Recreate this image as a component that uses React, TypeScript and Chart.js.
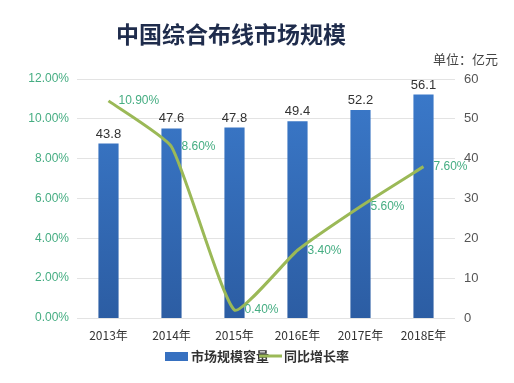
import React, { useEffect, useRef } from "react";
import { Chart, registerables } from "chart.js";

Chart.register(...registerables);

const categories = ["2013年", "2014年", "2015年", "2016E年", "2017E年", "2018E年"];
const marketSize = [43.8, 47.6, 47.8, 49.4, 52.2, 56.1];
const growthRate = [10.9, 8.6, 0.4, 3.4, 5.6, 7.6];
const leftTicks = [0, 2, 4, 6, 8, 10, 12];
const rightTicks = [0, 10, 20, 30, 40, 50, 60];

const FONT = "'Liberation Sans', 'Noto Sans CJK SC', sans-serif";
const CJK = "'Noto Sans CJK SC', 'Liberation Sans', sans-serif";
const GREEN_TEXT = "#45ad82";
const LINE_COLOR = "#9bb957";
const BAR_COLOR = "#3670c0";

const overlay = {
  id: "overlay",
  afterDatasetsDraw(chart: any) {
    const ctx = chart.ctx;
    ctx.save();
    const barMeta = chart.getDatasetMeta(1);
    ctx.font = `13px ${FONT}`;
    ctx.fillStyle = "#333333";
    ctx.textAlign = "center";
    ctx.textBaseline = "alphabetic";
    barMeta.data.forEach((el: any, i: number) => {
      ctx.fillText(marketSize[i].toFixed(1), el.x, el.y - 6);
    });
    const lineMeta = chart.getDatasetMeta(0);
    ctx.font = `12px ${FONT}`;
    ctx.fillStyle = GREEN_TEXT;
    ctx.textAlign = "left";
    ctx.textBaseline = "middle";
    lineMeta.data.forEach((el: any, i: number) => {
      ctx.fillText(growthRate[i].toFixed(2) + "%", el.x + 10, el.y);
    });
    ctx.restore();
  },
  afterDraw(chart: any) {
    const ctx = chart.ctx;
    ctx.save();
    ctx.font = `bold 23px ${CJK}`;
    ctx.fillStyle = "#1f2c4c";
    ctx.textAlign = "center";
    ctx.textBaseline = "middle";
    ctx.fillText("中国综合布线市场规模", 231, 34);
    ctx.font = `13px ${CJK}`;
    ctx.fillStyle = "#444444";
    ctx.textAlign = "right";
    ctx.fillText("单位：亿元", 498, 59);
    const ly = 356;
    ctx.fillStyle = BAR_COLOR;
    ctx.fillRect(165, ly - 4, 23, 9);
    ctx.font = `bold 13px ${CJK}`;
    ctx.fillStyle = "#333333";
    ctx.textAlign = "left";
    ctx.fillText("市场规模容量", 191, ly);
    ctx.strokeStyle = LINE_COLOR;
    ctx.lineWidth = 3;
    ctx.beginPath();
    ctx.moveTo(259, ly);
    ctx.lineTo(282, ly);
    ctx.stroke();
    ctx.fillText("同比增长率", 284, ly);
    ctx.restore();
  },
};

export default function App() {
  const ref = useRef<HTMLCanvasElement>(null);
  useEffect(() => {
    document.body.style.margin = "0";
    const chart = new Chart(ref.current!, {
      type: "bar",
      data: {
        labels: categories,
        datasets: [
          {
            type: "line",
            label: "同比增长率",
            data: growthRate,
            yAxisID: "y",
            borderColor: LINE_COLOR,
            backgroundColor: LINE_COLOR,
            borderWidth: 3,
            pointRadius: 0,
            tension: 0.15,
            order: 0,
          } as any,
          {
            type: "bar",
            label: "市场规模容量",
            data: marketSize,
            yAxisID: "y1",
            backgroundColor: (c: any) => {
              const area = c.chart.chartArea;
              if (!area) return BAR_COLOR;
              const g = c.chart.ctx.createLinearGradient(0, area.top, 0, area.bottom);
              g.addColorStop(0, "#3b7acb");
              g.addColorStop(1, "#2c5da3");
              return g;
            },
            barPercentage: 0.64,
            categoryPercentage: 0.5,
            order: 1,
          },
        ],
      },
      options: {
        animation: false,
        responsive: false,
        layout: { padding: { top: 79, left: 0, right: 0, bottom: 0 } },
        plugins: {
          legend: { display: false },
          tooltip: { enabled: false },
          title: { display: false },
        },
        scales: {
          x: {
            grid: { display: false },
            border: { display: false },
            ticks: { color: "#333333", font: { size: 12, family: CJK }, padding: 2 },
            afterFit: (s: any) => {
              s.height = 65;
            },
          },
          y: {
            position: "left",
            min: 0,
            max: 12,
            afterBuildTicks: (s: any) => {
              s.ticks = leftTicks.map((v) => ({ value: v }));
            },
            ticks: {
              color: GREEN_TEXT,
              font: { size: 12, family: FONT },
              padding: 8,
              callback: (v: any) => Number(v).toFixed(2) + "%",
            },
            grid: { color: "#e3e3e3", drawTicks: false },
            border: { display: false },
            afterFit: (s: any) => {
              s.width = 77;
            },
          },
          y1: {
            position: "right",
            min: 0,
            max: 60,
            afterBuildTicks: (s: any) => {
              s.ticks = rightTicks.map((v) => ({ value: v }));
            },
            ticks: { color: "#555555", font: { size: 13, family: FONT }, padding: 9 },
            grid: { display: false, drawTicks: false },
            border: { display: false },
            afterFit: (s: any) => {
              s.width = 59;
            },
          },
        },
      },
      plugins: [overlay],
    });
    return () => chart.destroy();
  }, []);
  return (
    <div style={{ position: "absolute", left: 0, top: 0, width: 514, height: 383, background: "#fff" }}>
      <canvas ref={ref} width={514} height={383} style={{ width: 514, height: 383 }} />
    </div>
  );
}
